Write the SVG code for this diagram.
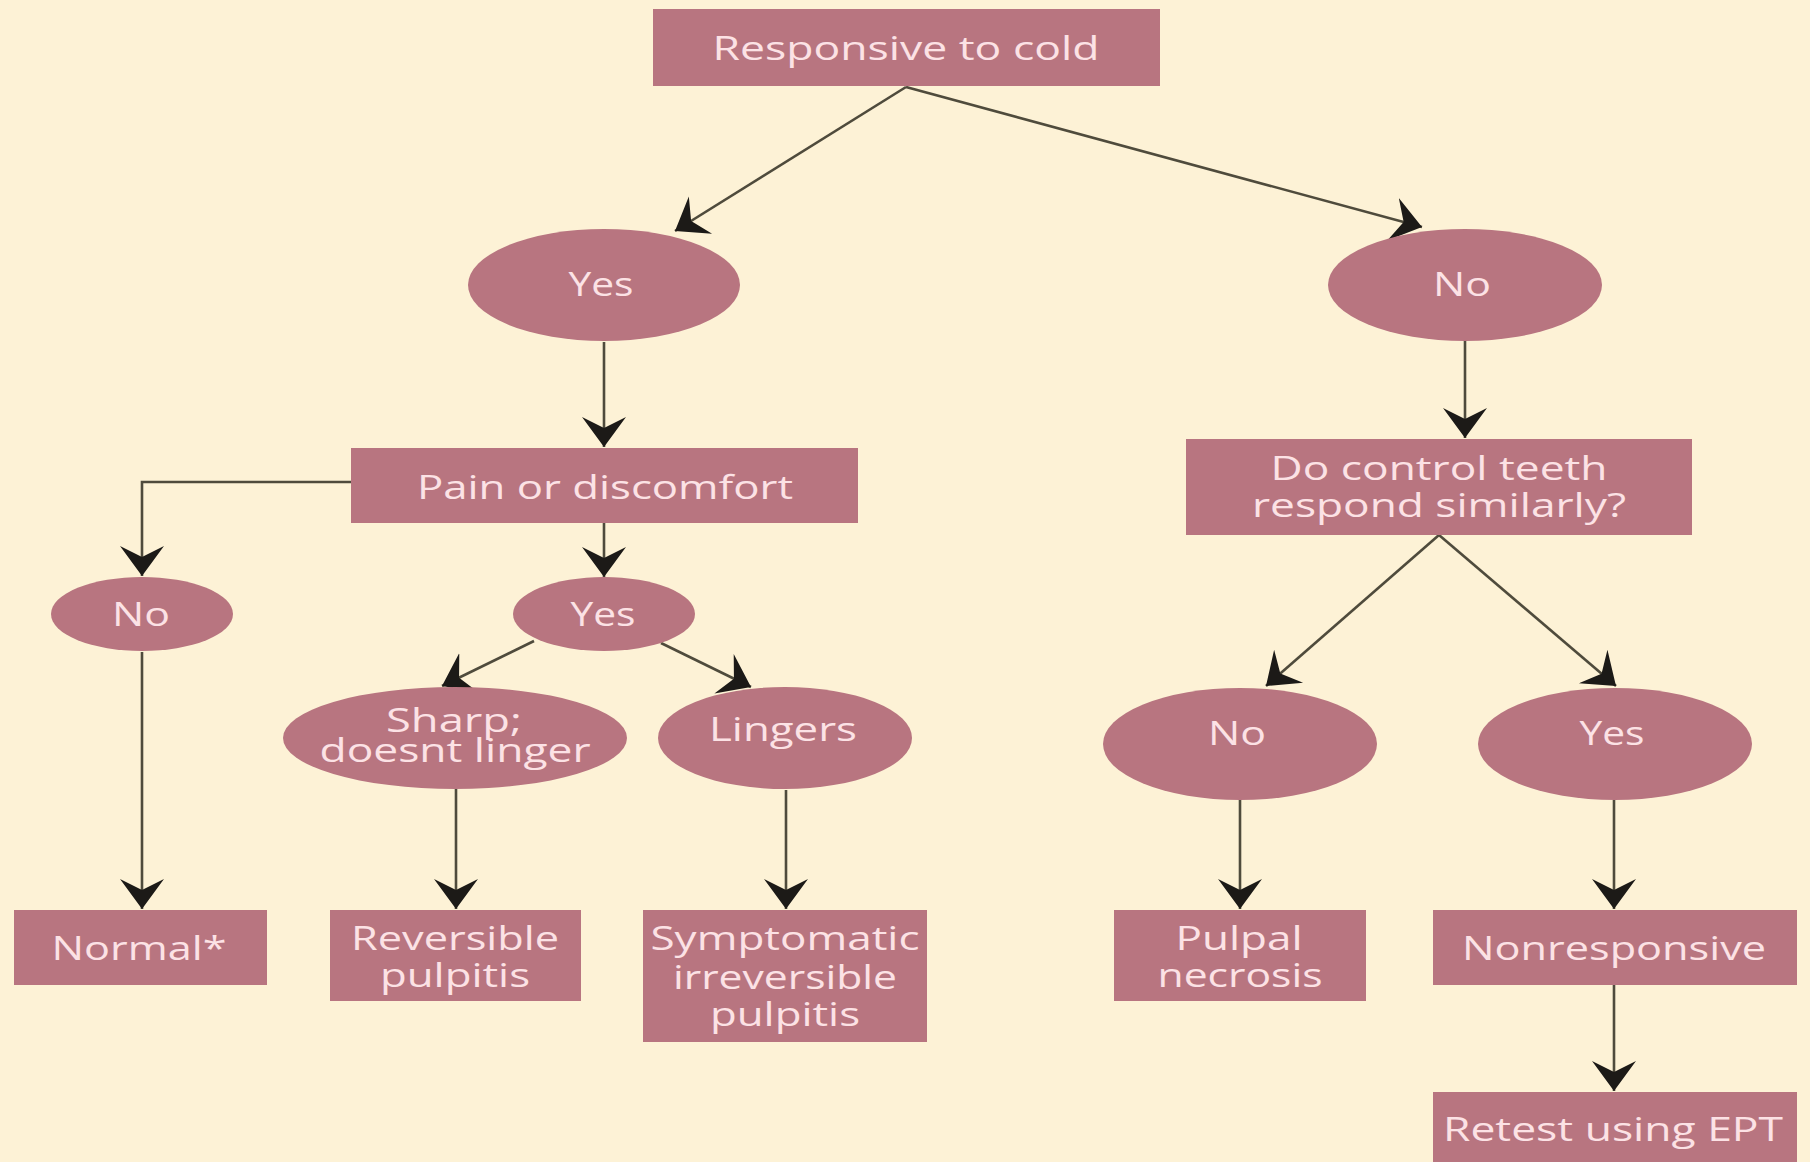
<svg xmlns="http://www.w3.org/2000/svg" width="1810" height="1162" viewBox="0 0 1810 1162">
<defs>
<style>
.n{fill:#b87580;}
.t{font-family:"Open Sans","Noto Sans","Liberation Sans",sans-serif;font-size:32px;fill:#fce2e5;text-anchor:middle;}
.c{fill:none;stroke:#4f4b3c;stroke-width:2.6;marker-end:url(#ah);}
</style>
<marker id="ah" markerUnits="userSpaceOnUse" viewBox="0 -24 32 48" markerWidth="32" markerHeight="48" refX="30" refY="0" orient="auto">
<path d="M30,0 L0,-22 L11,0 L0,22 Z" fill="#1c1a17"/>
</marker>
</defs>
<rect width="1810" height="1162" fill="#fdf2d6"/>
<g id="connectors">
<path class="c" d="M906,87 L675,231"/>
<path class="c" d="M906,87 L1422,227"/>
<path class="c" d="M604,342 L604,447"/>
<path class="c" d="M352,482 L142,482 L142,576"/>
<path class="c" d="M142,652 L142,909"/>
<path class="c" d="M604,523 L604,577"/>
<path class="c" d="M534,641 L442,686"/>
<path class="c" d="M661,643 L751,687"/>
<path class="c" d="M456,789 L456,909"/>
<path class="c" d="M786,790 L786,909"/>
<path class="c" d="M1465,341 L1465,438"/>
<path class="c" d="M1439,535 L1266,686"/>
<path class="c" d="M1439,535 L1616,686"/>
<path class="c" d="M1240,800 L1240,909"/>
<path class="c" d="M1614,800 L1614,909"/>
<path class="c" d="M1614,985 L1614,1091"/>
</g>
<g id="n-responsive"><rect class="n" x="653" y="9" width="507" height="77"/><text class="t" x="906" y="60" textLength="387" lengthAdjust="spacingAndGlyphs">Responsive to cold</text></g>
<g id="n-yes1"><ellipse class="n" cx="604" cy="285" rx="136" ry="56"/><text class="t" x="601" y="296" textLength="65" lengthAdjust="spacingAndGlyphs">Yes</text></g>
<g id="n-no1"><ellipse class="n" cx="1465" cy="285" rx="137" ry="56"/><text class="t" x="1462" y="296" textLength="58" lengthAdjust="spacingAndGlyphs">No</text></g>
<g id="n-pain"><rect class="n" x="351" y="448" width="507" height="75"/><text class="t" x="605" y="499" textLength="376" lengthAdjust="spacingAndGlyphs">Pain or discomfort</text></g>
<g id="n-control"><rect class="n" x="1186" y="439" width="506" height="96"/><text class="t" x="1439" y="480" textLength="337" lengthAdjust="spacingAndGlyphs">Do control teeth</text><text class="t" x="1439" y="517" textLength="374" lengthAdjust="spacingAndGlyphs">respond similarly?</text></g>
<g id="n-no2"><ellipse class="n" cx="142" cy="614" rx="91" ry="37"/><text class="t" x="141" y="626" textLength="58" lengthAdjust="spacingAndGlyphs">No</text></g>
<g id="n-yes2"><ellipse class="n" cx="604" cy="614" rx="91" ry="37"/><text class="t" x="603" y="626" textLength="65" lengthAdjust="spacingAndGlyphs">Yes</text></g>
<g id="n-sharp"><ellipse class="n" cx="455" cy="738" rx="172" ry="51"/><text class="t" x="454" y="732" textLength="136" lengthAdjust="spacingAndGlyphs">Sharp;</text><text class="t" x="455" y="762" textLength="271" lengthAdjust="spacingAndGlyphs">doesnt linger</text></g>
<g id="n-lingers"><ellipse class="n" cx="785" cy="738" rx="127" ry="51"/><text class="t" x="783" y="741" textLength="148" lengthAdjust="spacingAndGlyphs">Lingers</text></g>
<g id="n-no3"><ellipse class="n" cx="1240" cy="744" rx="137" ry="56"/><text class="t" x="1237" y="745" textLength="58" lengthAdjust="spacingAndGlyphs">No</text></g>
<g id="n-yes3"><ellipse class="n" cx="1615" cy="744" rx="137" ry="56"/><text class="t" x="1612" y="745" textLength="65" lengthAdjust="spacingAndGlyphs">Yes</text></g>
<g id="n-normal"><rect class="n" x="14" y="910" width="253" height="75"/><text class="t" x="139" y="960" textLength="175" lengthAdjust="spacingAndGlyphs">Normal*</text></g>
<g id="n-reversible"><rect class="n" x="330" y="910" width="251" height="91"/><text class="t" x="455" y="950" textLength="208" lengthAdjust="spacingAndGlyphs">Reversible</text><text class="t" x="455" y="987" textLength="150" lengthAdjust="spacingAndGlyphs">pulpitis</text></g>
<g id="n-symptomatic"><rect class="n" x="643" y="910" width="284" height="132"/><text class="t" x="785" y="950" textLength="269" lengthAdjust="spacingAndGlyphs">Symptomatic</text><text class="t" x="785" y="989" textLength="224" lengthAdjust="spacingAndGlyphs">irreversible</text><text class="t" x="785" y="1026" textLength="150" lengthAdjust="spacingAndGlyphs">pulpitis</text></g>
<g id="n-pulpal"><rect class="n" x="1114" y="910" width="252" height="91"/><text class="t" x="1239" y="950" textLength="127" lengthAdjust="spacingAndGlyphs">Pulpal</text><text class="t" x="1240" y="987" textLength="165" lengthAdjust="spacingAndGlyphs">necrosis</text></g>
<g id="n-nonresponsive"><rect class="n" x="1433" y="910" width="364" height="75"/><text class="t" x="1614" y="960" textLength="304" lengthAdjust="spacingAndGlyphs">Nonresponsive</text></g>
<g id="n-retest"><rect class="n" x="1433" y="1092" width="364" height="80"/><text class="t" x="1613" y="1141" textLength="340" lengthAdjust="spacingAndGlyphs">Retest using EPT</text></g>
</svg>
